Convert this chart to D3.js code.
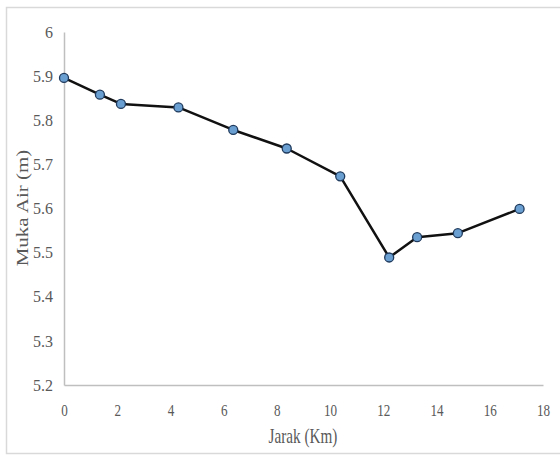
<!DOCTYPE html>
<html><head><meta charset="utf-8">
<script src="https://cdn.jsdelivr.net/npm/d3@7"></script>
<style>body{margin:0;background:#fff}svg{display:block}</style>
</head><body><div id="chart"></div>
<script>
const jarak = [0, 1.35, 2.14, 4.30, 6.36, 8.37, 10.38, 12.22, 13.27, 14.80, 17.12];
const mukaAir = [5.896, 5.858, 5.837, 5.829, 5.778, 5.736, 5.673, 5.489, 5.535, 5.544, 5.599];
const xTicks = [0, 2, 4, 6, 8, 10, 12, 14, 16, 18];
const yTicks = [5.2, 5.3, 5.4, 5.5, 5.6, 5.7, 5.8, 5.9, 6];
const xTitle = "Jarak (Km)";
const yTitle = "Muka Air (m)";

const W = 560, H = 456;
const svg = d3.select("#chart").append("svg").attr("width", W).attr("height", H);
svg.append("rect").attr("x", 6.5).attr("y", 7.5).attr("width", 560).attr("height", 446)
  .attr("fill", "#fff").attr("stroke", "#d9d9d9").attr("stroke-width", 1.5);

const x = d3.scaleLinear().domain([0, 18]).range([64, 543]);
const y = d3.scaleLinear().domain([5.2, 6]).range([385, 32]);
const font = "'Liberation Serif','Times New Roman',serif";
const grey = "#595959";

// y axis
const ya = svg.append("g").attr("transform", "translate(64,0)")
  .call(d3.axisLeft(y).tickValues(yTicks).tickSize(0).tickPadding(11)
    .tickFormat(d => d3.format("")(+d.toFixed(1))));
ya.select(".domain").attr("stroke", "#bfbfbf").attr("stroke-width", 1.5);
ya.selectAll("text").attr("font-family", font).attr("font-size", 16).attr("fill", grey);

// x axis
const xa = svg.append("g").attr("transform", "translate(0,385)")
  .call(d3.axisBottom(x).tickValues(xTicks).tickSize(0).tickPadding(0).tickFormat(d3.format("d")));
xa.select(".domain").attr("stroke", "#bfbfbf").attr("stroke-width", 1.5);
xa.selectAll(".tick text").attr("font-family", font).attr("font-size", 16).attr("fill", grey)
  .attr("dy", null).attr("y", 0)
  .attr("transform", "translate(0,31) scale(0.82,1)");

// titles
svg.append("text").attr("font-family", font).attr("font-size", 20).attr("fill", grey)
  .attr("text-anchor", "middle")
  .attr("transform", `translate(${303},${443}) scale(0.76,1)`).text(xTitle);
svg.append("text").attr("font-family", font).attr("font-size", 21).attr("fill", grey)
  .attr("text-anchor", "middle")
  .attr("transform", `translate(${28},${208}) rotate(-90) scale(1,0.78)`).text(yTitle);

// line
const pts = jarak.map((d, i) => [d, mukaAir[i]]);
svg.append("path").datum(pts)
  .attr("d", d3.line().x(d => x(d[0])).y(d => y(d[1])))
  .attr("fill", "none").attr("stroke", "#111").attr("stroke-width", 2.5)
  .attr("stroke-linejoin", "round");
svg.selectAll("circle.m").data(pts).join("circle").attr("class", "m")
  .attr("cx", d => x(d[0])).attr("cy", d => y(d[1])).attr("r", 4.5)
  .attr("fill", "#6a9fd2").attr("stroke", "#1f3a5c").attr("stroke-width", 1.3);
</script></body></html>
